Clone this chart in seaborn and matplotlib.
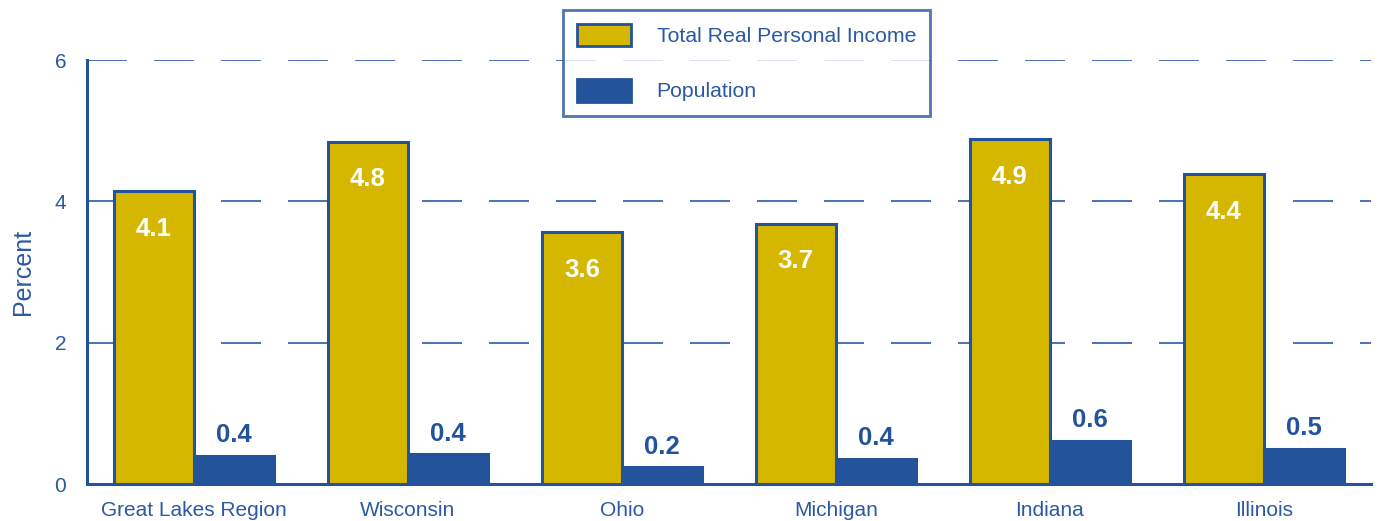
import pandas as pd
import matplotlib.pyplot as plt
import seaborn as sns
from matplotlib.patches import Patch

# growth rates, percent
regions = ['Great Lakes Region', 'Wisconsin', 'Ohio', 'Michigan', 'Indiana', 'Illinois']
income = [4.14, 4.84, 3.56, 3.68, 4.88, 4.38]
population = [0.40, 0.42, 0.24, 0.36, 0.61, 0.50]
series_names = ['Total Real Personal Income', 'Population']

gold = '#D6B700'
blue = '#23539A'
txt = '#2B59A3'

df = pd.DataFrame({'Region': regions * 2,
                   'Value': income + population,
                   'Series': [series_names[0]] * 6 + [series_names[1]] * 6})

sns.set_style('white')
plt.rcParams['font.family'] = ['Liberation Sans', 'DejaVu Sans']

fig = plt.figure(figsize=(13.79, 5.21), dpi=100)
ax = fig.add_axes([0.0631, 0.071, 0.931, 0.8138])

sns.barplot(data=df, x='Region', y='Value', hue='Series', palette=[gold, blue],
            saturation=1, width=0.75, edgecolor=blue, linewidth=2.2, ax=ax,
            legend=False, zorder=3)

ax.set_ylim(0, 6)
ax.set_xlim(-0.5, 5.5)
ax.set_yticks([0, 2, 4, 6])
ax.yaxis.grid(True, color=txt, linestyle=(0, (24, 16.2)), linewidth=1.2, zorder=0)
ax.xaxis.grid(False)
for s in ['top', 'right']:
    ax.spines[s].set_visible(False)
for s in ['left', 'bottom']:
    ax.spines[s].set_color(blue)
    ax.spines[s].set_linewidth(2.2)
ax.tick_params(axis='both', length=0, labelsize=15, labelcolor=txt)
ax.tick_params(axis='x', pad=12)
ax.tick_params(axis='y', pad=15)
ax.set_xlabel('')
ax.set_ylabel('Percent', fontsize=18, color=txt, labelpad=14)

# value labels
for i, v in enumerate(income):
    ax.text(i - 0.1875, v - 0.53, f'{v:.1f}', ha='center', va='center',
            color='white', fontsize=18.5, fontweight='bold', zorder=5)
for i, v in enumerate(population):
    ax.text(i + 0.1875, v + 0.29, f'{v:.1f}', ha='center', va='center',
            color=blue, fontsize=18.5, fontweight='bold', zorder=5)

handles = [Patch(facecolor=gold, edgecolor=blue, linewidth=2),
           Patch(facecolor=blue, edgecolor=blue, linewidth=2)]
leg = fig.legend(handles, series_names, loc='upper center', bbox_to_anchor=(0.5413, 0.981),
                 fontsize=15.3, frameon=True, fancybox=False, handlelength=2.54,
                 handleheight=1.27, handletextpad=1.22, labelspacing=1.53, borderpad=0.65,
                 borderaxespad=0)
leg.get_frame().set_edgecolor(blue)
leg.get_frame().set_linewidth(2)
for t in leg.get_texts():
    t.set_color(txt)

plt.savefig('out.png', dpi=100)
